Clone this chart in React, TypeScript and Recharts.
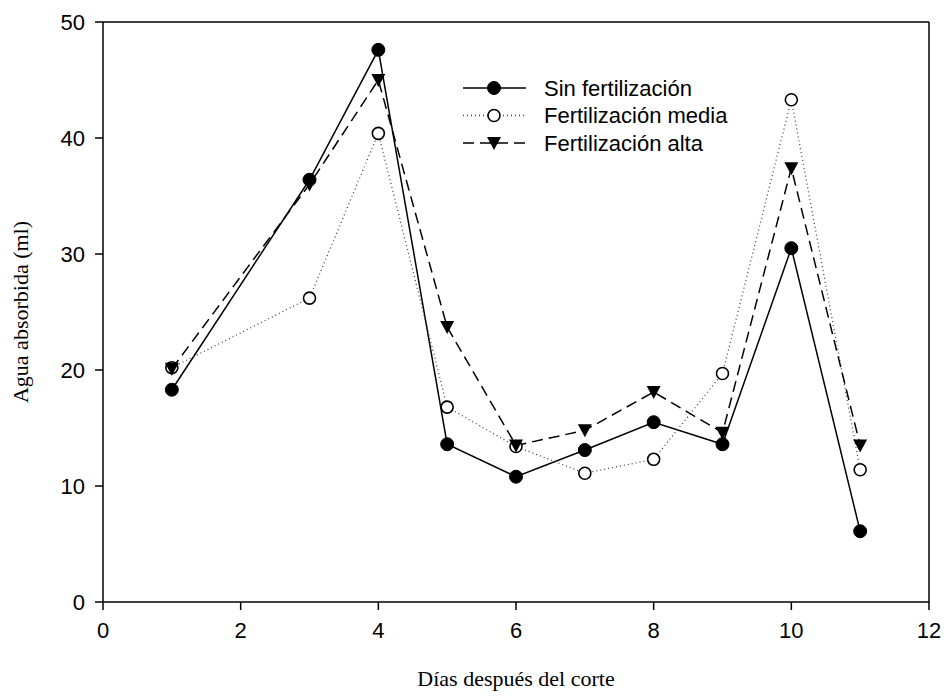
import {
	Legend,
	Line,
	LineChart,
	ReferenceLine,
	XAxis,
	YAxis,
} from 'recharts';

const days = [1, 3, 4, 5, 6, 7, 8, 9, 10, 11];
const sinFert = [18.3, 36.4, 47.6, 13.6, 10.8, 13.1, 15.5, 13.6, 30.5, 6.1];
const fertMedia = [20.2, 26.2, 40.4, 16.8, 13.4, 11.1, 12.3, 19.7, 43.3, 11.4];
const fertAlta = [20.1, 36.0, 45.0, 23.7, 13.5, 14.8, 18.1, 14.6, 37.4, 13.5];

const xTicks = [0, 2, 4, 6, 8, 10, 12];
const yTicks = [0, 10, 20, 30, 40, 50];

const data = days.map((d, i) => ({
	dia: d,
	sin: sinFert[i],
	media: fertMedia[i],
	alta: fertAlta[i],
}));

const sans = 'Liberation Sans, Arial, sans-serif';
const serif = 'Liberation Serif, Times New Roman, serif';

const FilledDot = (props: any) => (
	<circle cx={props.cx} cy={props.cy} r={6.5} fill="#000" stroke="#000" />
);

const OpenDot = (props: any) => (
	<circle cx={props.cx} cy={props.cy} r={6} fill="#fff" stroke="#000" strokeWidth={1.6} />
);

const TriDot = (props: any) => {
	const { cx, cy } = props;
	return (
		<path
			d={`M${cx - 7},${cy - 6} L${cx + 7},${cy - 6} L${cx},${cy + 7} Z`}
			fill="#000"
		/>
	);
};

const legendRows = [
	{ label: 'Sin fertilización', dash: undefined, w: 1.5, color: '#000', marker: 'filled' },
	{ label: 'Fertilización media', dash: '1 3', w: 1.3, color: '#444', marker: 'open' },
	{ label: 'Fertilización alta', dash: '11 6', w: 1.5, color: '#000', marker: 'tri' },
];

function renderLegend() {
	return (
		<svg width={360} height={90}>
			{legendRows.map((r, i) => {
				const y = 16 + i * 27.5;
				const mx = 39;
				return (
					<g key={r.label}>
						<line
							x1={8}
							x2={71}
							y1={y}
							y2={y}
							stroke={r.color}
							strokeWidth={r.w}
							strokeDasharray={r.dash}
						/>
						{r.marker === 'filled' && <FilledDot cx={mx} cy={y} />}
						{r.marker === 'open' && <OpenDot cx={mx} cy={y} />}
						{r.marker === 'tri' && <TriDot cx={mx} cy={y} />}
						<text
							x={89}
							y={y}
							dominantBaseline="central"
							fontSize={22}
							fontFamily={sans}
							fill="#000"
						>
							{r.label}
						</text>
					</g>
				);
			})}
		</svg>
	);
}

export default function App() {
	return (
		<div style={{ position: 'absolute', left: 0, top: 0, background: '#fff' }}>
			<LineChart
				width={944}
				height={696}
				data={data}
				margin={{ top: 22, right: 15, left: 0, bottom: 0 }}
			>
				<XAxis
					dataKey="dia"
					type="number"
					domain={[0, 12]}
					ticks={xTicks}
					height={94}
					stroke="#000"
					strokeWidth={1.5}
					tickSize={8}
					tickMargin={12}
					tick={{ fontSize: 22, fill: '#000', fontFamily: sans }}
					label={{
						value: 'Días después del corte',
						position: 'insideBottom',
						offset: 10,
						style: { fontSize: 22, fontFamily: serif, fill: '#000' },
					}}
				/>
				<YAxis
					type="number"
					domain={[0, 50]}
					ticks={yTicks}
					width={103}
					stroke="#000"
					strokeWidth={1.5}
					tickSize={8}
					tickMargin={10}
					tick={{ fontSize: 22, fill: '#000', fontFamily: sans }}
					label={{
						value: 'Agua absorbida (ml)',
						angle: -90,
						position: 'insideLeft',
						offset: 20,
						style: { fontSize: 22, fontFamily: serif, fill: '#000', textAnchor: 'middle' },
					}}
				/>
				<ReferenceLine y={50} stroke="#000" strokeWidth={1.5} />
				<ReferenceLine x={12} stroke="#000" strokeWidth={1.5} />
				<Line
					dataKey="sin"
					type="linear"
					stroke="#000"
					strokeWidth={1.5}
					dot={<FilledDot />}
					isAnimationActive={false}
				/>
				<Line
					dataKey="media"
					type="linear"
					stroke="#444"
					strokeWidth={1.3}
					strokeDasharray="1 3"
					dot={<OpenDot />}
					isAnimationActive={false}
				/>
				<Line
					dataKey="alta"
					type="linear"
					stroke="#000"
					strokeWidth={1.5}
					strokeDasharray="11 6"
					dot={<TriDot />}
					isAnimationActive={false}
				/>
				<Legend
					layout="vertical"
					verticalAlign="middle"
					align="center"
					content={renderLegend}
					wrapperStyle={{ position: 'absolute', left: 455, top: 72, width: 360, height: 90 }}
				/>
			</LineChart>
		</div>
	);
}
